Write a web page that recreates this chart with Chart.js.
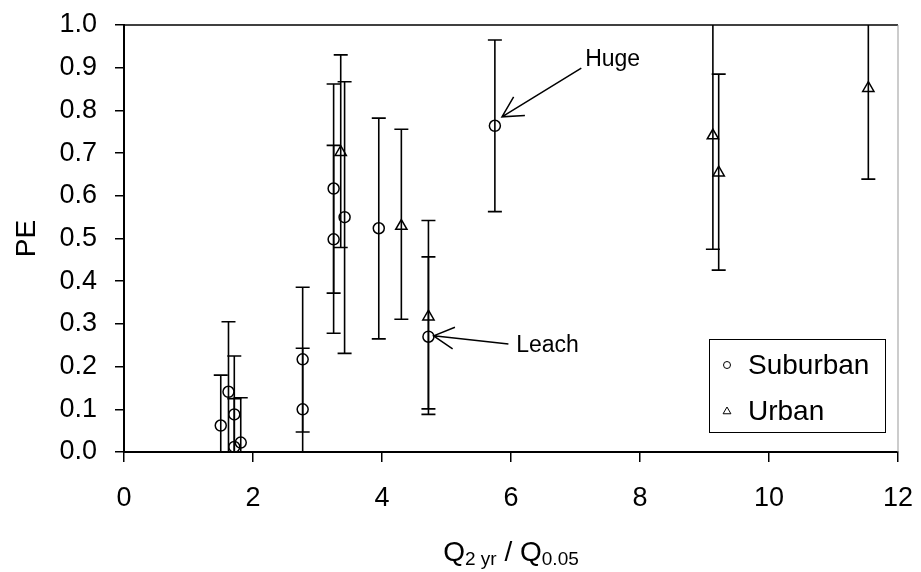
<!DOCTYPE html>
<html>
<head>
<meta charset="utf-8">
<script src="https://cdn.jsdelivr.net/npm/chart.js@4.4.1/dist/chart.umd.min.js"></script>
<style>
  html, body { margin: 0; padding: 0; background: #fff; }
</style>
</head>
<body>
<canvas id="peChart" width="921" height="572"></canvas>
<script>
// data: PE vs Q2yr/Q0.05, with error bar limits
const suburbanX    = [1.50, 1.62, 1.71, 1.71, 1.81, 2.77, 2.77, 3.25, 3.25, 3.42, 3.95, 4.72, 5.75];
const suburbanY    = [0.062, 0.141, 0.088, 0.012, 0.022, 0.217, 0.100, 0.617, 0.498, 0.550, 0.524, 0.270, 0.764];
const suburbanLow  = [-0.056, -0.023, -0.049, -0.100, -0.083, 0.047, -0.043, 0.372, 0.278, 0.231, 0.265, 0.088, 0.563];
const suburbanHigh = [0.180, 0.305, 0.225, 0.125, 0.127, 0.386, 0.243, 0.862, 0.718, 0.867, 0.782, 0.457, 0.965];

const urbanX    = [3.36, 4.30, 4.72, 9.13, 9.22, 11.54];
const urbanY    = [0.702, 0.529, 0.317, 0.741, 0.654, 0.852];
const urbanLow  = [0.479, 0.311, 0.101, 0.475, 0.426, 0.639];
const urbanHigh = [0.930, 0.756, 0.542, 1.007, 0.885, 1.065];

const xTicks = [0, 2, 4, 6, 8, 10, 12];
const yTicks = [0, 0.1, 0.2, 0.3, 0.4, 0.5, 0.6, 0.7, 0.8, 0.9, 1.0];

// callouts (data units)
const notes = [
  { text: "Huge",  at: [7.15, 0.922], from: [7.09, 0.899], to: [5.86, 0.785] },
  { text: "Leach", at: [6.08, 0.251], from: [5.96, 0.253], to: [4.80, 0.272] },
];

const FONT = '"Liberation Sans", Arial, Helvetica, sans-serif';
Chart.defaults.font.family = FONT;
Chart.defaults.color = "#000";

function toPoints(xs, ys) {
  return xs.map((x, i) => ({ x: x, y: ys[i] }));
}

// vertical error bars with caps
const errorBars = {
  id: "errorBars",
  beforeDatasetsDraw(chart) {
    const { ctx, chartArea: a, scales: { x, y } } = chart;
    ctx.save();
    ctx.beginPath();
    ctx.rect(a.left, a.top, a.right - a.left, a.bottom - a.top);
    ctx.clip();
    ctx.strokeStyle = "#000";
    ctx.lineWidth = 1.6;
    chart.data.datasets.forEach(ds => {
      ds.data.forEach((p, i) => {
        const px = x.getPixelForValue(p.x);
        const top = y.getPixelForValue(ds.errHigh[i]);
        const bot = y.getPixelForValue(ds.errLow[i]);
        ctx.beginPath();
        ctx.moveTo(px, top); ctx.lineTo(px, bot);
        ctx.moveTo(px - 7, top); ctx.lineTo(px + 7, top);
        ctx.moveTo(px - 7, bot); ctx.lineTo(px + 7, bot);
        ctx.stroke();
      });
    });
    ctx.restore();
  }
};

// top / right frame, callouts, legend box, x title with subscripts
const extras = {
  id: "extras",
  afterDraw(chart) {
    const { ctx, chartArea: a, scales: { x, y } } = chart;
    ctx.save();

    // frame
    ctx.strokeStyle = "#000";
    ctx.lineWidth = 1.5;
    ctx.beginPath();
    ctx.moveTo(a.left, a.top); ctx.lineTo(a.right, a.top);
    ctx.stroke();
    ctx.strokeStyle = "#999";
    ctx.lineWidth = 1;
    ctx.beginPath();
    ctx.moveTo(a.right, a.top); ctx.lineTo(a.right, a.bottom);
    ctx.stroke();

    // callouts with open arrowheads
    ctx.strokeStyle = "#000";
    ctx.fillStyle = "#000";
    ctx.lineWidth = 1.5;
    ctx.font = "23px " + FONT;
    ctx.textBaseline = "middle";
    ctx.textAlign = "left";
    notes.forEach(n => {
      const x0 = x.getPixelForValue(n.from[0]), y0 = y.getPixelForValue(n.from[1]);
      const x1 = x.getPixelForValue(n.to[0]),   y1 = y.getPixelForValue(n.to[1]);
      const ang = Math.atan2(y0 - y1, x0 - x1);
      const len = 23, spread = 28 * Math.PI / 180;
      ctx.beginPath();
      ctx.moveTo(x0, y0); ctx.lineTo(x1, y1);
      ctx.moveTo(x1 + len * Math.cos(ang - spread), y1 + len * Math.sin(ang - spread));
      ctx.lineTo(x1, y1);
      ctx.lineTo(x1 + len * Math.cos(ang + spread), y1 + len * Math.sin(ang + spread));
      ctx.stroke();
      ctx.fillText(n.text, x.getPixelForValue(n.at[0]), y.getPixelForValue(n.at[1]) + 1);
    });

    // legend
    const bx = a.right - 189, by = a.bottom - 113, bw = 176, bh = 93;
    ctx.fillStyle = "#fff";
    ctx.fillRect(bx, by, bw, bh);
    ctx.strokeStyle = "#000";
    ctx.lineWidth = 1;
    ctx.strokeRect(bx + 0.5, by + 0.5, bw, bh);
    ctx.font = "28px " + FONT;
    chart.data.datasets.forEach((ds, i) => {
      const cy = by + 26 + i * 46.5;
      ctx.strokeStyle = "#000";
      ctx.fillStyle = "rgba(0,0,0,0)";
      Chart.helpers.drawPoint(ctx, {
        pointStyle: ds.pointStyle,
        radius: ds.pointStyle === "triangle" ? 4.5 : 3.5,
        borderWidth: 1.5, rotation: 0
      }, bx + 18, cy);
      ctx.fillStyle = "#000";
      ctx.fillText(ds.label, bx + 39, cy + 1);
    });

    // x axis title: Q2 yr / Q0.05
    const parts = [
      { t: "Q", sub: false }, { t: "2 yr", sub: true },
      { t: " / Q", sub: false }, { t: "0.05", sub: true }
    ];
    const mainF = "28px " + FONT, subF = "19px " + FONT;
    let total = 0;
    parts.forEach(p => { ctx.font = p.sub ? subF : mainF; p.w = ctx.measureText(p.t).width; total += p.w; });
    let cx = (a.left + a.right) / 2 - total / 2;
    const base = 561;
    ctx.textBaseline = "alphabetic";
    ctx.fillStyle = "#000";
    parts.forEach(p => {
      ctx.font = p.sub ? subF : mainF;
      ctx.fillText(p.t, cx, p.sub ? base + 4 : base);
      cx += p.w;
    });

    ctx.restore();
  }
};

new Chart(document.getElementById("peChart").getContext("2d"), {
  type: "scatter",
  data: {
    datasets: [
      {
        label: "Suburban",
        data: toPoints(suburbanX, suburbanY),
        errLow: suburbanLow,
        errHigh: suburbanHigh,
        pointStyle: "circle",
        pointRadius: 5.5,
        borderColor: "#000",
        backgroundColor: "rgba(0,0,0,0)",
        borderWidth: 1.5,
      },
      {
        label: "Urban",
        data: toPoints(urbanX, urbanY),
        errLow: urbanLow,
        errHigh: urbanHigh,
        pointStyle: "triangle",
        pointRadius: 6.5,
        borderColor: "#000",
        backgroundColor: "rgba(0,0,0,0)",
        borderWidth: 1.5,
      },
    ],
  },
  options: {
    responsive: false,
    animation: false,
    layout: { padding: { top: 25, right: 23, left: 0, bottom: 0 } },
    plugins: {
      legend: { display: false },
      tooltip: { enabled: false },
    },
    scales: {
      x: {
        type: "linear",
        min: 0,
        max: 12,
        afterBuildTicks: s => { s.ticks = xTicks.map(v => ({ value: v })); },
        afterFit: s => { s.height = 120; s.paddingLeft = 0; s.paddingRight = 0; },
        ticks: { font: { size: 27 }, padding: 20, color: "#000" },
        grid: { drawOnChartArea: false, tickLength: 10, color: "#000", lineWidth: 1.5 },
        border: { display: true, color: "#000", width: 2 },
      },
      y: {
        type: "linear",
        min: 0,
        max: 1,
        afterBuildTicks: s => { s.ticks = yTicks.map(v => ({ value: v })); },
        afterFit: s => { s.width = 124; s.paddingTop = 0; s.paddingBottom = 0; },
        ticks: {
          font: { size: 27 },
          padding: 18,
          color: "#000",
          callback: v => v.toFixed(1),
        },
        grid: { drawOnChartArea: false, tickLength: 9, color: "#000", lineWidth: 1.5 },
        border: { display: true, color: "#000", width: 2 },
        title: { display: true, text: "PE", font: { size: 28 }, padding: { top: 10, bottom: 0 }, color: "#000" },
      },
    },
  },
  plugins: [errorBars, extras],
});
</script>
</body>
</html>
